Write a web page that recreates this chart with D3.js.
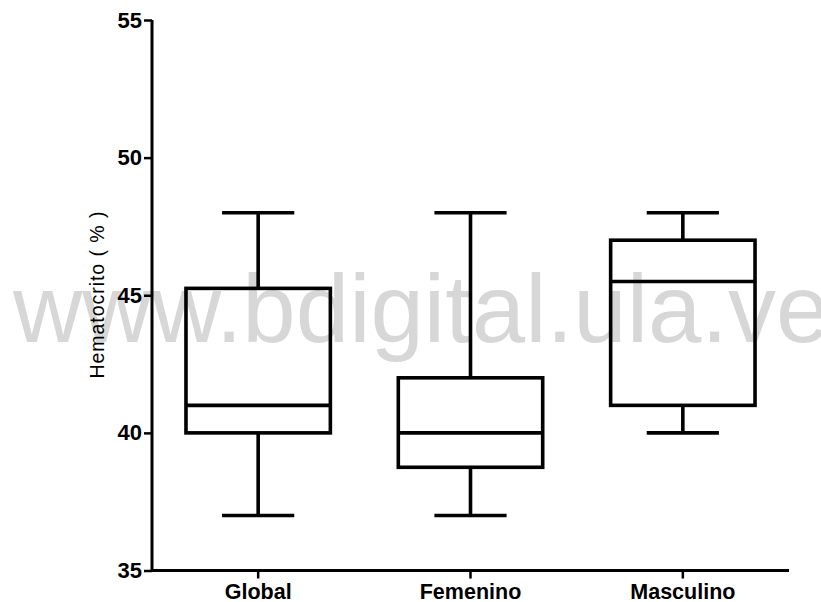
<!DOCTYPE html>
<html>
<head>
<meta charset="utf-8">
<script src="https://cdn.jsdelivr.net/npm/d3@7"></script>
<style>
  html, body { margin: 0; padding: 0; background: #fff; }
  svg { display: block; }
</style>
</head>
<body>
<script>
const categories = ["Global", "Femenino", "Masculino"];
const whiskerLow = [37, 37, 40];
const q1 = [40, 38.75, 41];
const median = [41, 40, 45.5];
const q3 = [45.25, 42, 47];
const whiskerHigh = [48, 48, 48];
const yTicks = [35, 40, 45, 50, 55];
const yTitle = "Hematocrito ( % )";
const watermark = "www.bdigital.ula.ve";

const W = 821, H = 602;
const svg = d3.select("body").append("svg").attr("width", W).attr("height", H);

const y = d3.scaleLinear().domain([35, 55]).range([570.5, 20]);
const x = d3.scaleBand().domain(categories).range([152, 789]).padding(0);

// watermark (beneath everything)
svg.append("text")
  .attr("x", 13).attr("y", 342)
  .attr("font-family", "Liberation Sans, Arial, sans-serif")
  .attr("font-size", 96)
  .attr("fill", "#d7d7d7")
  .text(watermark);

const data = categories.map((c, i) => ({
  c, lo: whiskerLow[i], q1: q1[i], med: median[i], q3: q3[i], hi: whiskerHigh[i]
}));

const boxW = x.bandwidth() * 0.68;
const capW = boxW * 0.5;
const sw = 3.6;

const g = svg.append("g").attr("stroke", "#000").attr("fill", "none").attr("stroke-width", sw);
data.forEach(d => {
  const cx = x(d.c) + x.bandwidth() / 2;
  g.append("line").attr("x1", cx).attr("x2", cx).attr("y1", y(d.hi)).attr("y2", y(d.q3));
  g.append("line").attr("x1", cx).attr("x2", cx).attr("y1", y(d.q1)).attr("y2", y(d.lo));
  g.append("line").attr("x1", cx - capW / 2).attr("x2", cx + capW / 2).attr("y1", y(d.hi)).attr("y2", y(d.hi));
  g.append("line").attr("x1", cx - capW / 2).attr("x2", cx + capW / 2).attr("y1", y(d.lo)).attr("y2", y(d.lo));
  g.append("rect").attr("x", cx - boxW / 2).attr("y", y(d.q3))
    .attr("width", boxW).attr("height", y(d.q1) - y(d.q3));
  g.append("line").attr("x1", cx - boxW / 2).attr("x2", cx + boxW / 2).attr("y1", y(d.med)).attr("y2", y(d.med));
});

// y axis
const yAxis = svg.append("g").attr("transform", "translate(152,0)")
  .call(d3.axisLeft(y).tickValues(yTicks).tickSize(8).tickPadding(2).tickFormat(d3.format("d")));
yAxis.select(".domain").attr("stroke-width", 3).attr("d", `M0,${y(55)}V${y(35)}`);
yAxis.selectAll(".tick line").attr("stroke-width", 2.5);
yAxis.selectAll(".tick text")
  .attr("font-family", "Liberation Sans, Arial, sans-serif")
  .attr("font-size", 22).attr("font-weight", "bold").attr("fill", "#000");

// x axis
const xAxis = svg.append("g").attr("transform", `translate(0,${y(35)})`)
  .call(d3.axisBottom(x).tickSize(8).tickPadding(5));
xAxis.select(".domain").attr("stroke-width", 3).attr("d", `M152,0H789`);
xAxis.selectAll(".tick line").attr("stroke-width", 2.5);
xAxis.selectAll(".tick text")
  .attr("font-family", "Liberation Sans, Arial, sans-serif")
  .attr("font-size", 21.5).attr("font-weight", "bold").attr("fill", "#000");

// y title
svg.append("text")
  .attr("transform", `translate(104,295) rotate(-90)`)
  .attr("text-anchor", "middle")
  .attr("font-family", "Liberation Sans, Arial, sans-serif")
  .attr("font-size", 19.5)
  .attr("fill", "#000")
  .attr("textLength", 167)
  .attr("lengthAdjust", "spacing")
  .text(yTitle);
</script>
</body>
</html>
